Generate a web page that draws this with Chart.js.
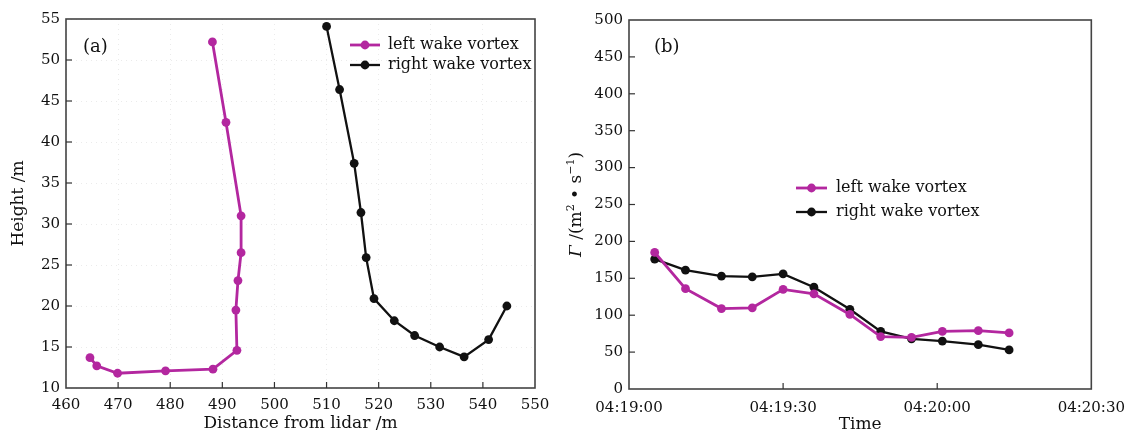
<!DOCTYPE html>
<html><head><meta charset="utf-8">
<script src="https://cdn.jsdelivr.net/npm/chart.js@4.4.0/dist/chart.umd.min.js"></script>
<style>
html,body{margin:0;padding:0;background:#fff;}
#wrap{position:relative;width:1135px;height:439px;overflow:hidden;}
#c1{position:absolute;left:0;top:0;}
#c2{position:absolute;left:560px;top:0;}
</style></head><body>
<div id="wrap">
<canvas id="c1" width="560" height="439"></canvas>
<canvas id="c2" width="575" height="439"></canvas>
</div>
<script>
// ---- Panel (a): vortex trajectories ----
const leftDistance  = [488.1, 490.7, 493.6, 493.6, 493.0, 492.6, 492.8, 488.2, 479.1, 469.9, 465.9, 464.6];
const leftHeight    = [52.2, 42.4, 31.0, 26.5, 23.1, 19.5, 14.6, 12.3, 12.1, 11.8, 12.7, 13.7];
const rightDistance = [510.0, 512.5, 515.3, 516.6, 517.6, 519.1, 523.0, 526.9, 531.7, 536.4, 541.1, 544.6];
const rightHeight   = [54.1, 46.4, 37.4, 31.4, 25.9, 20.9, 18.2, 16.4, 15.0, 13.8, 15.9, 20.0];

// ---- Panel (b): circulation vs time ----
const timeLabels   = ["04:19:05","04:19:11","04:19:18","04:19:24","04:19:30","04:19:36","04:19:43","04:19:49","04:19:55","04:20:01","04:20:08","04:20:14"];
const leftCirc     = [185, 136, 109, 110, 135, 129, 101, 71, 70, 78, 79, 76];
const rightCirc    = [176, 161, 153, 152, 156, 138, 108, 78, 68, 65, 60, 53];
const timeTicks    = ["04:19:00","04:19:30","04:20:00","04:20:30"];

const seriesNames = ["left wake vortex", "right wake vortex"];
const MAGENTA = "#b3279f";
const BLACK = "#111111";
const FONT = "'DejaVu Serif', serif";

const toSec = s => { const p = s.split(":").map(Number); return p[0]*3600 + p[1]*60 + p[2]; };
const t0 = toSec(timeTicks[0]);
const secToLabel = v => {
  const t = t0 + v; const h = Math.floor(t/3600), m = Math.floor((t%3600)/60), s = Math.round(t%60);
  const z = n => String(n).padStart(2,"0");
  return z(h)+":"+z(m)+":"+z(s);
};

const framePlugin = {
  id: 'frame',
  beforeDatasetsDraw(chart, args, opts) {
    const {ctx, chartArea: a, scales: {x, y}} = chart;
    ctx.save();
    ctx.strokeStyle = '#444';
    ctx.lineWidth = 1.6;
    ctx.strokeRect(a.left, a.top, a.right - a.left, a.bottom - a.top);
    ctx.lineWidth = 1.2;
    ctx.strokeStyle = '#333';
    x.ticks.forEach(t => {
      const px = x.getPixelForValue(t.value);
      if (px <= a.left + 2 || px >= a.right - 2) return;
      ctx.beginPath(); ctx.moveTo(px, a.bottom); ctx.lineTo(px, a.bottom - 6); ctx.stroke();
    });
    y.ticks.forEach(t => {
      const py = y.getPixelForValue(t.value);
      if (py <= a.top + 2 || py >= a.bottom - 2) return;
      ctx.beginPath(); ctx.moveTo(a.left, py); ctx.lineTo(a.left + 6, py); ctx.stroke();
    });
    ctx.restore();
  },
  afterDraw(chart, args, opts) {
    const {ctx, chartArea: a} = chart;
    ctx.save();
    // panel label
    ctx.fillStyle = '#111';
    ctx.font = "18px " + FONT;
    ctx.textBaseline = 'middle';
    ctx.textAlign = 'left';
    ctx.fillText(opts.panel, a.left + opts.panelDx, a.top + opts.panelDy);
    // legend
    const L = opts.legend;
    chart.data.datasets.forEach((ds, i) => {
      const yy = a.top + L.dy + i * L.gap;
      const x0 = a.left + L.dx;
      ctx.strokeStyle = ds.borderColor; ctx.lineWidth = ds.borderWidth;
      ctx.beginPath(); ctx.moveTo(x0, yy); ctx.lineTo(x0 + L.len, yy); ctx.stroke();
      ctx.fillStyle = ds.backgroundColor;
      ctx.beginPath(); ctx.arc(x0 + L.len/2, yy, ds.pointRadius, 0, Math.PI*2); ctx.fill();
      ctx.fillStyle = '#111';
      ctx.font = "16px " + FONT;
      ctx.fillText(ds.label, x0 + L.len + L.textGap, yy);
    });
    // custom rotated y title (mixed italic + superscripts)
    if (opts.yTitle) {
      const cy = (a.top + a.bottom) / 2;
      ctx.translate(opts.yTitle.x, cy);
      ctx.rotate(-Math.PI / 2);
      ctx.textBaseline = 'alphabetic';
      ctx.textAlign = 'left';
      const parts = opts.yTitle.parts;
      const fontOf = p => (p.it ? "italic " : "") + (p.sup ? "11px " : "17px ") + FONT;
      let total = 0;
      parts.forEach(p => { ctx.font = fontOf(p); p.w = ctx.measureText(p.t).width; total += p.w; });
      let sx = -total / 2;
      parts.forEach(p => {
        ctx.font = fontOf(p);
        ctx.fillText(p.t, sx, p.sup ? -1 : 6);
        sx += p.w;
      });
    }
    ctx.restore();
  }
};

function ds(label, data, color, bw) {
  return {
    label, data, showLine: true, borderColor: color, backgroundColor: color,
    borderWidth: bw, pointRadius: 4.4, pointHoverRadius: 4.4, pointBorderWidth: 0, tension: 0
  };
}

// Chart (a)
new Chart(document.getElementById('c1'), {
  type: 'scatter',
  data: {
    datasets: [
      ds(seriesNames[0], leftDistance.map((v, i) => ({x: v, y: leftHeight[i]})), MAGENTA, 2.8),
      ds(seriesNames[1], rightDistance.map((v, i) => ({x: v, y: rightHeight[i]})), BLACK, 2.3)
    ]
  },
  options: {
    responsive: false, animation: false, devicePixelRatio: 1,
    layout: {padding: {left: 0, right: 25, top: 19, bottom: 0}},
    plugins: {
      legend: {display: false}, tooltip: {enabled: false},
      frame: {panel: '(a)', panelDx: 17, panelDy: 28, legend: {dx: 284, dy: 26, gap: 20, len: 30, textGap: 8}}
    },
    scales: {
      x: {
        type: 'linear', min: 460, max: 550,
        ticks: {stepSize: 10, color: '#111', font: {family: FONT, size: 15}, padding: 8, maxRotation: 0},
        grid: {drawTicks: false, color: 'rgba(0,0,0,0.08)', lineWidth: 1, drawOnChartArea: true},
        border: {display: false, dash: [1, 4]},
        title: {display: true, text: 'Distance from lidar /m', color: '#111', font: {family: FONT, size: 17}, padding: {top: 0, bottom: 5}},
        afterFit: s => { s.height = 51; }
      },
      y: {
        type: 'linear', min: 10, max: 55,
        ticks: {stepSize: 5, color: '#111', font: {family: FONT, size: 15}, padding: 6},
        grid: {drawTicks: false, color: 'rgba(0,0,0,0.08)', lineWidth: 1},
        border: {display: false, dash: [1, 4]},
        title: {display: true, text: 'Height /m', color: '#111', font: {family: FONT, size: 17}, padding: {top: 8, bottom: 0}},
        afterFit: s => { s.width = 66; }
      }
    }
  },
  plugins: [framePlugin]
});

// Chart (b)
new Chart(document.getElementById('c2'), {
  type: 'scatter',
  data: {
    datasets: [
      ds(seriesNames[0], timeLabels.map((t, i) => ({x: toSec(t) - t0, y: leftCirc[i]})), MAGENTA, 2.8),
      ds(seriesNames[1], timeLabels.map((t, i) => ({x: toSec(t) - t0, y: rightCirc[i]})), BLACK, 2.3)
    ]
  },
  options: {
    responsive: false, animation: false, devicePixelRatio: 1,
    layout: {padding: {left: 0, right: 38, top: 20, bottom: 0}},
    plugins: {
      legend: {display: false}, tooltip: {enabled: false},
      frame: {panel: '(b)', panelDx: 25, panelDy: 27, legend: {dx: 167, dy: 168, gap: 24, len: 31, textGap: 9},
              yTitle: {x: 15, parts: [
                {t: 'Γ', it: true}, {t: ' /(m'}, {t: '2', sup: true}, {t: ' • s'}, {t: '−1', sup: true}, {t: ')'}
              ]}}
    },
    scales: {
      x: {
        type: 'linear', min: 0, max: toSec(timeTicks[timeTicks.length-1]) - t0,
        afterBuildTicks: s => { s.ticks = timeTicks.map(t => ({value: toSec(t) - t0})); },
        ticks: {color: '#111', font: {family: FONT, size: 15}, padding: 10, maxRotation: 0, autoSkip: false,
                callback: v => secToLabel(v)},
        grid: {display: false, drawTicks: false},
        border: {display: false},
        title: {display: true, text: 'Time', color: '#111', font: {family: FONT, size: 17}, padding: {top: 0, bottom: 4}},
        afterFit: s => { s.height = 50; }
      },
      y: {
        type: 'linear', min: 0, max: 500,
        ticks: {stepSize: 50, color: '#111', font: {family: FONT, size: 15}, padding: 6},
        grid: {display: false, drawTicks: false},
        border: {display: false},
        title: {display: false},
        afterFit: s => { s.width = 69; }
      }
    }
  },
  plugins: [framePlugin]
});
</script>
</body></html>
